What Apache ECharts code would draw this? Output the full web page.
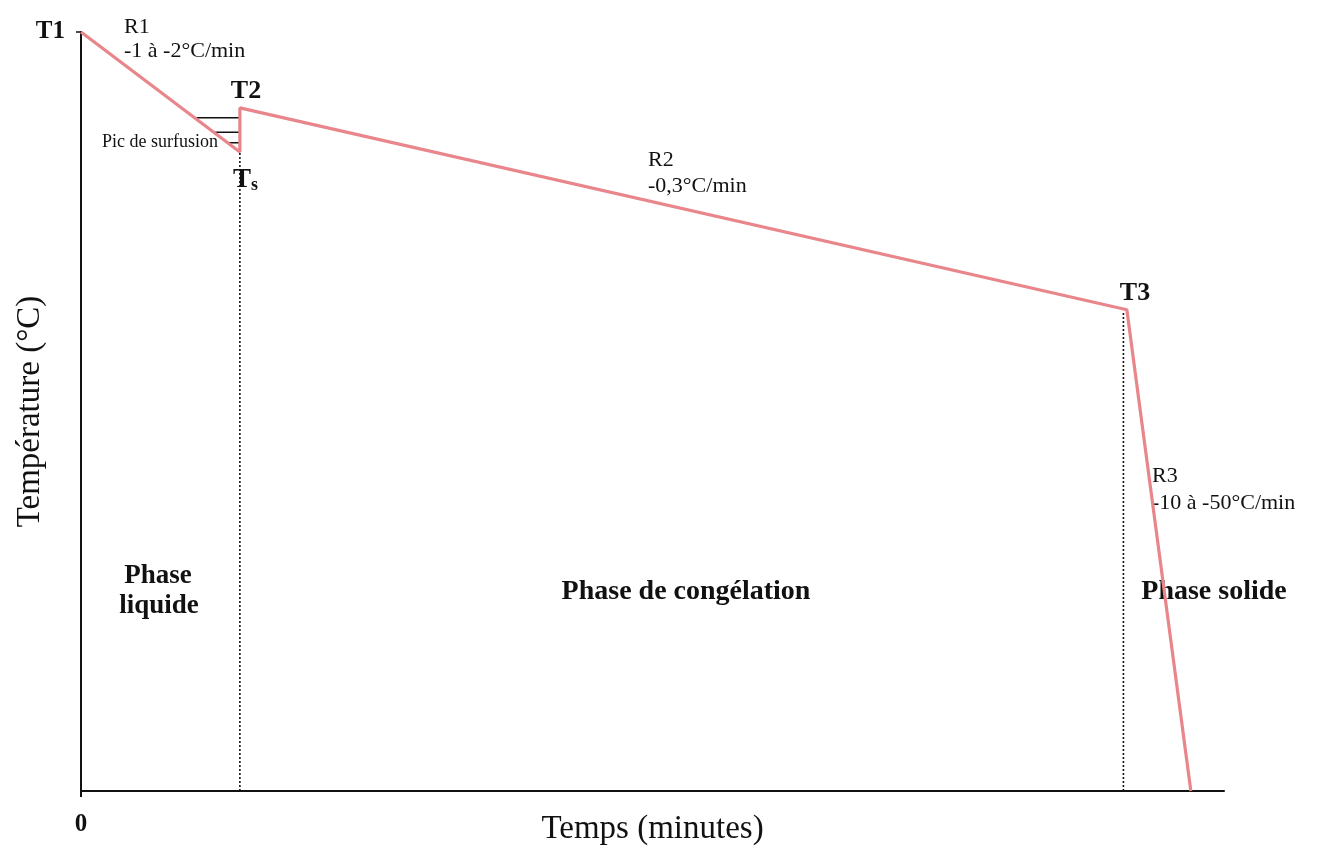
<!DOCTYPE html>
<html>
<head>
<meta charset="utf-8">
<script src="https://cdn.jsdelivr.net/npm/echarts@6/dist/echarts.min.js"></script>
<style>
  html, body { margin: 0; padding: 0; background: #fff; }
  #chart { width: 1330px; height: 856px; }
</style>
</head>
<body>
<div id="chart"></div>
<script>
  // courbe de température (schéma), x en unités arbitraires 0-100, y 0-100
  var curveX = [0, 13.9, 13.9, 91.5, 97.1];
  var curveY = [100, 84.2, 90.0, 63.4, 0];
  // lignes pointillées verticales (Ts et T3)
  var dropX = [13.9, 91.2];
  var dropTop = [84.2, 63.1];
  // hachures du pic de surfusion
  var hatchStart = [10.1, 11.5, 12.9];
  var hatchY = [88.7, 86.8, 85.4];
  var hatchEnd = 13.9;
  var xTicks = ['0'];
  var yTicks = ['T1'];

  var serif = '"Liberation Serif", "DejaVu Serif", serif';
  var pink = '#E8868B';

  var curveData = curveX.map(function (x, i) { return [x, curveY[i]]; });
  var dropSeries = dropX.map(function (x, i) {
    return {
      type: 'line', data: [[x, 0], [x, dropTop[i]]], symbol: 'none', silent: true,
      lineStyle: { color: '#111', width: 1.6, type: [2, 2] }, z: 1
    };
  });
  var hatchSeries = hatchY.map(function (y, i) {
    return {
      type: 'line', data: [[hatchStart[i], y], [hatchEnd, y]], symbol: 'none', silent: true,
      lineStyle: { color: '#111', width: 1.4 }, z: 1
    };
  });

  function txt(x, y, text, size, bold, align) {
    return {
      type: 'text', x: x, y: y,
      style: {
        text: text, fill: '#111', font: (bold ? 'bold ' : '') + size + 'px ' + serif,
        align: align || 'left', verticalAlign: 'middle'
      }
    };
  }

  var myChart = echarts.init(document.getElementById('chart'));
  var option = {
    animation: false,
    grid: { left: 81, right: 106, top: 32, bottom: 65, outerBoundsMode: 'none', containLabel: false },
    xAxis: {
      type: 'value', min: 0, max: 100,
      name: 'Temps (minutes)', nameLocation: 'middle', nameGap: 22, nameMoveOverlap: false,
      nameTextStyle: { fontFamily: serif, fontSize: 33, color: '#111' },
      axisLine: { show: true, lineStyle: { color: '#111', width: 2 } },
      axisTick: { show: true, customValues: [0], length: 6, lineStyle: { color: '#111', width: 2 } },
      axisLabel: {
        customValues: [0], formatter: function (v, i) { return xTicks[0]; },
        fontFamily: serif, fontWeight: 'bold', fontSize: 25, color: '#111', margin: 21
      },
      splitLine: { show: false }
    },
    yAxis: {
      type: 'value', min: 0, max: 100,
      name: 'Température (°C)', nameLocation: 'middle', nameGap: 34, nameMoveOverlap: false,
      nameTextStyle: { fontFamily: serif, fontSize: 33, color: '#111' },
      axisLine: { show: true, lineStyle: { color: '#111', width: 2 } },
      axisTick: { show: true, customValues: [100], length: 5, lineStyle: { color: '#111', width: 1.5 } },
      axisLabel: {
        customValues: [100], formatter: function () { return yTicks[0]; },
        fontFamily: serif, fontWeight: 'bold', fontSize: 25, color: '#111', margin: 16
      },
      splitLine: { show: false }
    },
    series: [
      {
        type: 'line', data: curveData, symbol: 'none', silent: true, z: 3,
        lineStyle: { color: pink, width: 3.2 }
      }
    ].concat(dropSeries, hatchSeries),
    graphic: [
      txt(124, 27, 'R1', 22),
      txt(124, 51, '-1 à -2°C/min', 22),
      txt(246, 91, 'T2', 26, true, 'center'),
      txt(218, 142, 'Pic de surfusion', 18, false, 'right'),
      {
        type: 'text', x: 233, y: 180,
        style: {
          text: '{a|T}{b|s}', verticalAlign: 'middle',
          rich: {
            a: { font: 'bold 27px ' + serif, fill: '#111' },
            b: { font: 'bold 18px ' + serif, fill: '#111', verticalAlign: 'bottom', padding: [10, 0, 0, 0] }
          }
        }
      },
      txt(648, 160, 'R2', 22),
      txt(648, 186, '-0,3°C/min', 22),
      txt(1135, 293, 'T3', 26, true, 'center'),
      txt(1152, 476, 'R3', 22),
      txt(1152, 503, '-10 à -50°C/min', 22),
      txt(158, 576, 'Phase', 27, true, 'center'),
      txt(159, 606, 'liquide', 27, true, 'center'),
      txt(686, 592, 'Phase de congélation', 28, true, 'center'),
      txt(1214, 592, 'Phase solide', 28, true, 'center')
    ]
  };
  myChart.setOption(option);
</script>
</body>
</html>
